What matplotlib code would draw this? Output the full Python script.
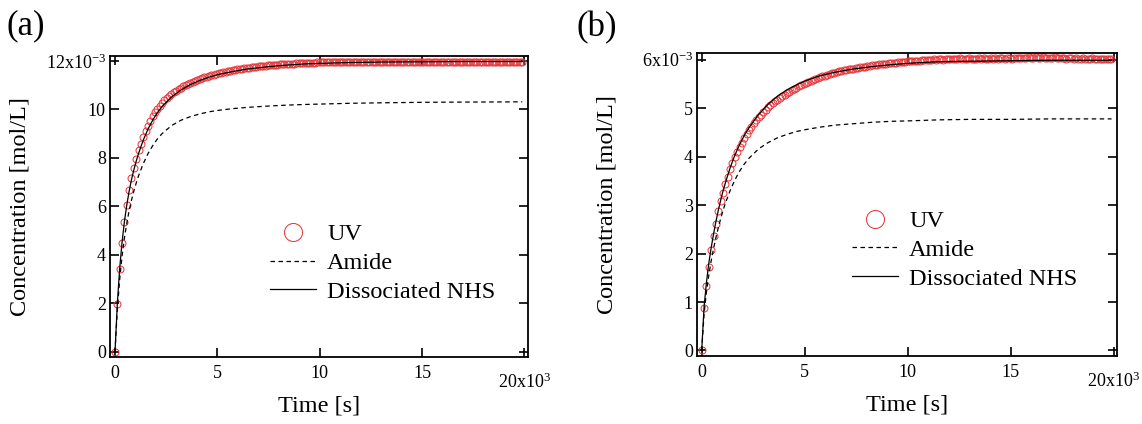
import numpy as np
import matplotlib
matplotlib.use("Agg")
import matplotlib.pyplot as plt
from matplotlib.transforms import ScaledTranslation

plt.rcParams.update({
    "font.family": "Liberation Serif",
    "mathtext.fontset": "custom",
    "mathtext.rm": "Liberation Serif",
    "mathtext.it": "Liberation Serif:italic",
    "mathtext.bf": "Liberation Serif:bold",
})

# ---------------------------------------------------------------- data
# UV absorbance-derived concentration, sampled every 115 s (units: 1e-3 mol/L)
SAMPLE_INTERVAL_S = 115

uv_a = [
    0.00, 1.98, 3.41, 4.50, 5.37, 6.07, 6.66, 7.18, 7.58, 7.95,
    8.33, 8.57, 8.85, 9.10, 9.33, 9.53, 9.71, 9.88, 10.02, 10.15,
    10.27, 10.37, 10.46, 10.55, 10.63, 10.70, 10.77, 10.83, 10.89, 10.95,
    11.00, 11.05, 11.09, 11.13, 11.17, 11.21, 11.25, 11.28, 11.32, 11.35,
    11.38, 11.40, 11.43, 11.46, 11.48, 11.51, 11.53, 11.55, 11.57, 11.59,
    11.61, 11.63, 11.65, 11.66, 11.68, 11.69, 11.71, 11.72, 11.73, 11.75,
    11.76, 11.77, 11.78, 11.79, 11.80, 11.81, 11.82, 11.83, 11.84, 11.84,
    11.85, 11.86, 11.87, 11.87, 11.88, 11.89, 11.89, 11.90, 11.90, 11.91,
    11.91, 11.92, 11.92, 11.93, 11.93, 11.93, 11.94, 11.94,
    11.94, 11.95, 11.94, 11.95, 11.95, 11.96, 11.94, 11.95, 11.96, 11.95,
    11.96, 11.95, 11.94, 11.96, 11.95, 11.97, 11.95, 11.96, 11.94, 11.96,
    11.95, 11.96, 11.97, 11.95, 11.96, 11.95, 11.97, 11.96, 11.95, 11.96,
    11.97, 11.95, 11.96, 11.96, 11.95, 11.97, 11.96, 11.95, 11.96, 11.97,
    11.96, 11.95, 11.96, 11.97, 11.95, 11.96, 11.96, 11.97, 11.95, 11.96,
    11.97, 11.96, 11.95, 11.96, 11.97, 11.96, 11.95, 11.96, 11.96, 11.97,
    11.95, 11.96, 11.97, 11.96, 11.95, 11.96, 11.97, 11.95, 11.96, 11.96,
    11.97, 11.95, 11.96, 11.96, 11.97, 11.95, 11.96, 11.97, 11.96, 11.95,
    11.96, 11.97, 11.96, 11.95, 11.96, 11.96,
]

uv_b = [
    0.00, 0.87, 1.34, 1.73, 2.07, 2.37, 2.62, 2.88, 3.08, 3.26,
    3.43, 3.58, 3.74, 3.86, 3.99, 4.09, 4.20, 4.29, 4.38, 4.47,
    4.55, 4.62, 4.69, 4.75, 4.81, 4.87, 4.92, 4.97, 5.02, 5.06,
    5.10, 5.14, 5.18, 5.21, 5.25, 5.28, 5.31, 5.34, 5.37, 5.40,
    5.42, 5.45, 5.47, 5.50, 5.52, 5.54, 5.56, 5.58, 5.60, 5.62,
    5.64, 5.66, 5.67, 5.69, 5.70, 5.72, 5.73, 5.74, 5.76, 5.77,
    5.78, 5.79, 5.80, 5.81, 5.82, 5.83, 5.84, 5.85, 5.86, 5.86,
    5.87, 5.88, 5.89, 5.89, 5.90, 5.91, 5.91, 5.92, 5.92, 5.93,
    5.93, 5.94, 5.94, 5.95, 5.95, 5.96, 5.96, 5.97, 5.97, 5.97,
    5.98, 5.98, 5.98, 5.99, 5.99, 5.99, 6.00,
    6.00, 6.01, 6.00, 6.01, 6.02, 6.00, 6.01, 6.02, 6.01, 6.02,
    6.02, 6.01, 6.03, 6.02, 6.01, 6.02, 6.03, 6.02, 6.01, 6.02,
    6.03, 6.02, 6.03, 6.01, 6.02, 6.03, 6.02, 6.04, 6.02, 6.03,
    6.03, 6.02, 6.04, 6.03, 6.02, 6.03, 6.04, 6.03, 6.04, 6.03,
    6.04, 6.05, 6.03, 6.04, 6.05, 6.04, 6.03, 6.05, 6.04, 6.04,
    6.03, 6.04, 6.05, 6.04, 6.03, 6.04, 6.03, 6.02, 6.03, 6.04,
    6.02, 6.03, 6.02, 6.01, 6.03, 6.02, 6.01, 6.02, 6.03, 6.01,
    6.02, 6.01, 6.02, 6.01, 6.02, 6.01, 6.02,
]

# Kinetic model curves (units: 1e-3 mol/L)
model_time = [
    0, 115, 230, 345, 460, 575, 690, 805, 920, 1035, 1150, 1380, 1610,
    1840, 2070, 2300, 2760, 3220, 3680, 4140, 4600, 5060, 5750, 6440,
    7360, 8280, 9200, 10120, 11500, 13000, 15000, 17000, 19900,
]
nhs_a = [
    0.00, 2.00, 3.45, 4.52, 5.37, 6.05, 6.62, 7.10, 7.50, 7.86, 8.18, 8.73,
    9.18, 9.55, 9.86, 10.12, 10.51, 10.80, 11.02, 11.19, 11.33, 11.44, 11.56,
    11.66, 11.75, 11.82, 11.87, 11.90, 11.93, 11.95, 11.96, 11.97, 11.97,
]
amide_a = [
    0.00, 1.75, 3.00, 3.95, 4.70, 5.30, 5.82, 6.25, 6.63, 6.96, 7.26, 7.76,
    8.17, 8.50, 8.78, 9.00, 9.33, 9.55, 9.70, 9.81, 9.90, 9.96, 10.03,
    10.08, 10.13, 10.17, 10.20, 10.22, 10.25, 10.27, 10.29, 10.30, 10.31,
]
nhs_b = [
    0.00, 0.90, 1.40, 1.80, 2.12, 2.40, 2.66, 2.89, 3.10, 3.29, 3.46, 3.77,
    4.03, 4.25, 4.44, 4.60, 4.87, 5.08, 5.25, 5.38, 5.48, 5.57, 5.67, 5.74,
    5.81, 5.86, 5.90, 5.93, 5.96, 5.97, 5.98, 5.99, 5.99,
]
amide_b = [
    0.00, 0.75, 1.20, 1.55, 1.85, 2.10, 2.33, 2.53, 2.72, 2.89, 3.04, 3.30,
    3.52, 3.70, 3.85, 3.97, 4.16, 4.29, 4.39, 4.46, 4.52, 4.56, 4.61, 4.65,
    4.68, 4.71, 4.73, 4.74, 4.76, 4.77, 4.77, 4.78, 4.78,
]

x_ticks = [0, 5000, 10000, 15000, 20000]
x_tick_labels = ["0", "5", "10", "15", r"20x10$^{3}$"]
y_ticks_a = [0, 2, 4, 6, 8, 10, 12]
y_tick_labels_a = ["0", "2", "4", "6", "8", "10", r"12x10$^{-3}$"]
y_ticks_b = [0, 1, 2, 3, 4, 5, 6]
y_tick_labels_b = ["0", "1", "2", "3", "4", "5", r"6x10$^{-3}$"]

legend_labels = ["UV", "Amide", "Dissociated NHS"]
MILLI = 1e-3

# ---------------------------------------------------------------- figure
W, H = 1142, 424
fig = plt.figure(figsize=(W / 100, H / 100), dpi=100)

RED = "#e8383d"


def draw_panel(rect, uv, nhs, amide, yticks, ylabels, xlim, ylim,
               legend_anchor, tag, tag_xy):
    ax = fig.add_axes(rect)
    t_uv = np.arange(len(uv)) * SAMPLE_INTERVAL_S
    h_uv, = ax.plot(t_uv, np.asarray(uv) * MILLI, linestyle="none",
                    marker="o", markersize=5.0, markerfacecolor="none",
                    markeredgecolor=RED, markeredgewidth=0.75)
    h_am, = ax.plot(model_time, np.asarray(amide) * MILLI, color="black",
                    lw=0.9, linestyle=(0, (3.6, 2.8)))
    h_nhs, = ax.plot(model_time, np.asarray(nhs) * MILLI, color="black",
                     lw=0.9)

    ax.set_xlim(*xlim)
    ax.set_ylim(ylim[0] * MILLI, ylim[1] * MILLI)
    ax.set_xticks(x_ticks)
    ax.set_xticklabels(x_tick_labels)
    ax.set_yticks([v * MILLI for v in yticks])
    ax.set_yticklabels(ylabels)
    ax.tick_params(direction="in", top=True, right=True, length=6.5,
                   width=1.2, labelsize=13, colors="black")
    ax.tick_params(axis="x", pad=5.5)
    ax.tick_params(axis="y", pad=3)
    for sp in ax.spines.values():
        sp.set_linewidth(1.3)

    # the scaled label at the right end sits a little lower
    last = ax.get_xticklabels()[-1]
    last.set_transform(last.get_transform() +
                       ScaledTranslation(0, -8 / 100, fig.dpi_scale_trans))

    ax.set_xlabel("Time [s]", fontsize=17.5)
    ax.set_ylabel("Concentration [mol/L]", fontsize=17.5)

    x0, y0, w, h = rect
    ax.xaxis.set_label_coords(0.5, -(49 / H) / h)
    ax.xaxis.label.set_verticalalignment("center")
    ax.yaxis.set_label_coords(-(90 / W) / w, 0.5)
    ax.yaxis.label.set_verticalalignment("center")

    ax.legend([h_uv, h_am, h_nhs], legend_labels, loc="center left",
              bbox_to_anchor=legend_anchor, frameon=False, fontsize=17.5,
              handlelength=1.9, handletextpad=0.45, labelspacing=0.28,
              borderpad=0, borderaxespad=0, markerscale=2.6)

    fig.text(tag_xy[0] / W, 1 - tag_xy[1] / H, tag, fontsize=25,
             ha="left", va="center")
    return ax


draw_panel([110 / W, (H - 357) / H, 418 / W, 301 / H],
           uv_a, nhs_a, amide_a, y_ticks_a, y_tick_labels_a,
           (-244, 20180), (-0.21, 12.2), (0.383, 0.312), "(a)", (7, 26))

draw_panel([697 / W, (H - 356) / H, 420 / W, 303 / H],
           uv_b, nhs_b, amide_b, y_ticks_b, y_tick_labels_b,
           (-228, 20165), (-0.114, 6.14), (0.369, 0.350), "(b)", (577, 28))

fig.savefig("out.png", dpi=100)
